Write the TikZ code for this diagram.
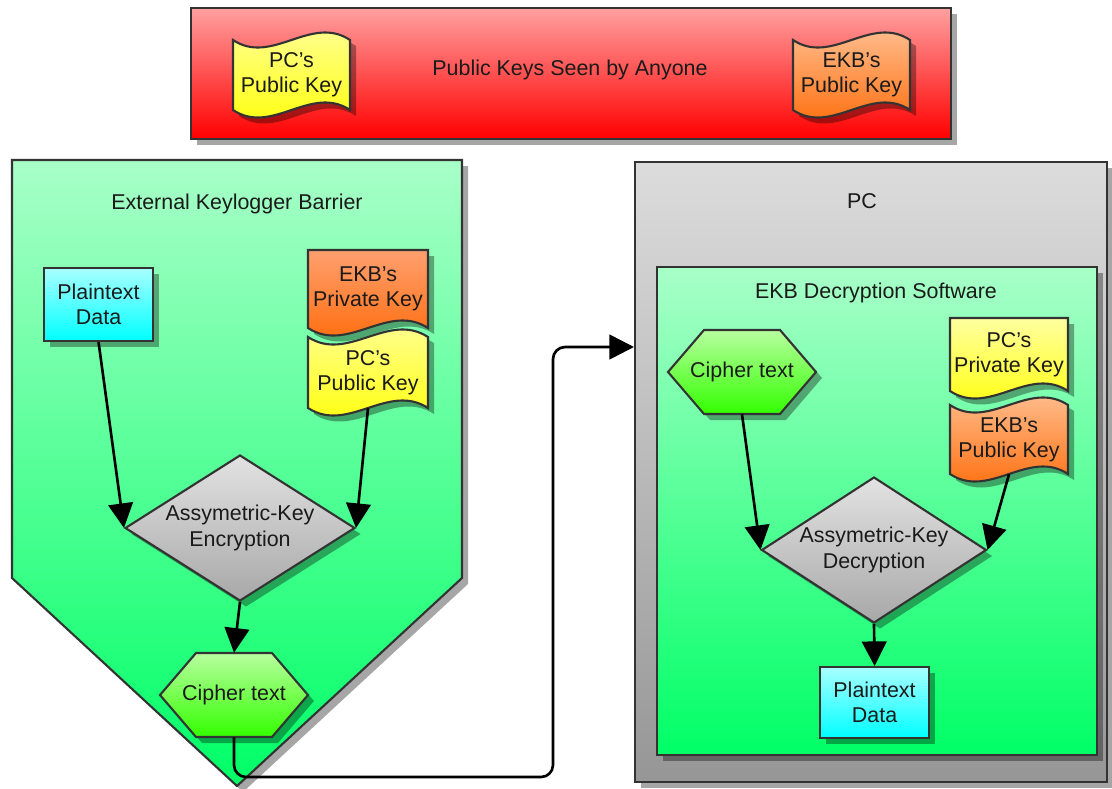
\documentclass[tikz,border=0pt]{standalone}
\usepackage{fontspec}
\setmainfont{Liberation Sans}
\usetikzlibrary{shapes.geometric,shadows,arrows.meta}
\definecolor{bord}{HTML}{333333}
\definecolor{txtc}{HTML}{1A1A1A}
\definecolor{redT}{HTML}{FFA0A0}
\definecolor{redB}{HTML}{FF0000}
\definecolor{grT}{HTML}{A8FFC8}
\definecolor{grB}{HTML}{00FF66}
\definecolor{gyT}{HTML}{DCDCDC}
\definecolor{gyB}{HTML}{969696}
\definecolor{yeT}{HTML}{FFFFA0}
\definecolor{yeB}{HTML}{FFFF00}
\definecolor{orT}{HTML}{FFA070}
\definecolor{or2T}{HTML}{FFC8A0}
\definecolor{orB}{HTML}{FF6600}
\definecolor{cyT}{HTML}{A8FFFF}
\definecolor{cyB}{HTML}{00FFFF}
\definecolor{diT}{HTML}{E2E2E2}
\definecolor{diB}{HTML}{A8A8A8}
\definecolor{hxT}{HTML}{B8FFA0}
\definecolor{hxB}{HTML}{33FF00}
\tikzset{
  px/.style={x=0.02cm,y=-0.02cm},
  shad/.style={drop shadow={shadow xshift=0.12cm,shadow yshift=-0.12cm,opacity=0.35,fill=black}},
  box/.style={draw=bord,line width=1.2pt},
  txt/.style={font=\fontsize{12.2pt}{14.4pt}\selectfont,text=txtc,align=center,inner sep=0pt},
  flow/.style={draw=black,line width=1.5pt,-{Triangle[length=14pt,width=14pt]}},
  dia/.style={diamond,aspect=1.57,box,shad,txt,top color=diT,bottom color=diB},
}
\newcommand\wdoc[7]{%
  \path[box,shad,#5] (#1,#2) -- (#3,#2) -- (#3,#4)
    .. controls ({#3-(#3-#1)/3},{#4-26}) and ({#1+(#3-#1)/3},{#4+26}) .. (#1,#4) -- cycle;
  \node[txt,minimum width={(#3-#1)*0.02cm},minimum height={(#4-#2)*0.02cm}] (#6) at ({(#1+#3)/2},{(#2+#4)/2}) {#7};}
\newcommand\wtape[7]{%
  \path[box,shad,#5] (#1,#2)
    .. controls ({#1+(#3-#1)/3},{#2+26}) and ({#3-(#3-#1)/3},{#2-26}) .. (#3,#2) -- (#3,#4)
    .. controls ({#3-(#3-#1)/3},{#4-26}) and ({#1+(#3-#1)/3},{#4+26}) .. (#1,#4) -- cycle;
  \node[txt,minimum width={(#3-#1)*0.02cm},minimum height={(#4-#2)*0.02cm}] (#6) at ({(#1+#3)/2},{(#2+#4)/2}) {#7};}
\newcommand\hexa[4]{%
  \path[box,shad,top color=hxT,bottom color=hxB] ({#1-74},#2) -- ({#1-38},{#2-42}) -- ({#1+38},{#2-42})
    -- ({#1+74},#2) -- ({#1+38},{#2+42}) -- ({#1-38},{#2+42}) -- cycle;
  \node[txt,minimum width=2.96cm,minimum height=1.68cm] (#3) at (#1,#2) {#4};}
\begin{document}
\begin{tikzpicture}[px]
\useasboundingbox (0,0) rectangle (1112,788);
% top bar
\node[box,shad,top color=redT,bottom color=redB,minimum width=15.2cm,minimum height=2.62cm,anchor=north west,inner sep=0pt] (bar) at (190,7) {};
\node[txt] (bartitle) at (570,70) {Public Keys Seen by Anyone};
\wtape{233}{40}{350}{110}{top color=yeT,bottom color=yeB}{pcpub0}{PC's\\Public Key}
\wtape{793}{40}{910}{110}{top color=or2T,bottom color=orB}{ekbpub0}{EKB's\\Public Key}
% left barrier
\path[box,shad,top color=grT,bottom color=grB] (12,160) -- (462,160) -- (462,578) -- (237,786) -- (12,578) -- cycle;
\node[txt] (ekbtitle) at (237,204) {External Keylogger Barrier};
\node[box,shad,txt,top color=cyT,bottom color=cyB,minimum width=2.18cm,minimum height=1.46cm,anchor=north west] (plain1) at (43,267) {Plaintext\\Data};
\wdoc{308}{250}{428}{328}{top color=orT,bottom color=orB}{ekbpriv1}{EKB's\\Private Key}
\wtape{308}{337}{428}{408}{top color=yeT,bottom color=yeB}{pcpub1}{PC's\\Public Key}
\node[dia,minimum width=4.6cm,minimum height=2.92cm] (enc) at (240,528) {Assymetric-Key\\Encryption};
\hexa{234}{695}{cipher1}{Cipher text}
\draw[flow] (plain1.south) -- (enc.west);
\draw[flow] (pcpub1.south) -- (enc.east);
\draw[flow] (enc.south) -- (cipher1.north);
% PC
\node[box,shad,top color=gyT,bottom color=gyB,minimum width=9.44cm,minimum height=12.4cm,anchor=north west,inner sep=0pt] (pc) at (634,161) {};
\node[txt] (pctitle) at (862,201) {PC};
\node[box,shad,top color=grT,bottom color=grB,minimum width=8.8cm,minimum height=9.76cm,anchor=north west,inner sep=0pt] (sw) at (656,266) {};
\node[txt] (swtitle) at (876,293) {EKB Decryption Software};
\hexa{742}{372}{cipher2}{Cipher text}
\wdoc{950}{318}{1068}{391}{top color=yeT,bottom color=yeB}{pcpriv2}{PC's\\Private Key}
\wtape{950}{405}{1068}{474}{top color=or2T,bottom color=orB}{ekbpub2}{EKB's\\Public Key}
\node[dia,minimum width=4.5cm,minimum height=2.92cm] (dec) at (874,550) {Assymetric-Key\\Decryption};
\node[box,shad,txt,top color=cyT,bottom color=cyB,minimum width=2.18cm,minimum height=1.42cm,anchor=north west] (plain2) at (819,666) {Plaintext\\Data};
\draw[flow] (cipher2.south) -- (dec.west);
\draw[flow] (ekbpub2.south) -- (dec.east);
\draw[flow] (dec.south) -- (plain2.north);
% connector
\draw[flow,rounded corners=0.24cm] (cipher1.south) |- (553,777) |- (pc.west |- 553,347);
\end{tikzpicture}
\end{document}
